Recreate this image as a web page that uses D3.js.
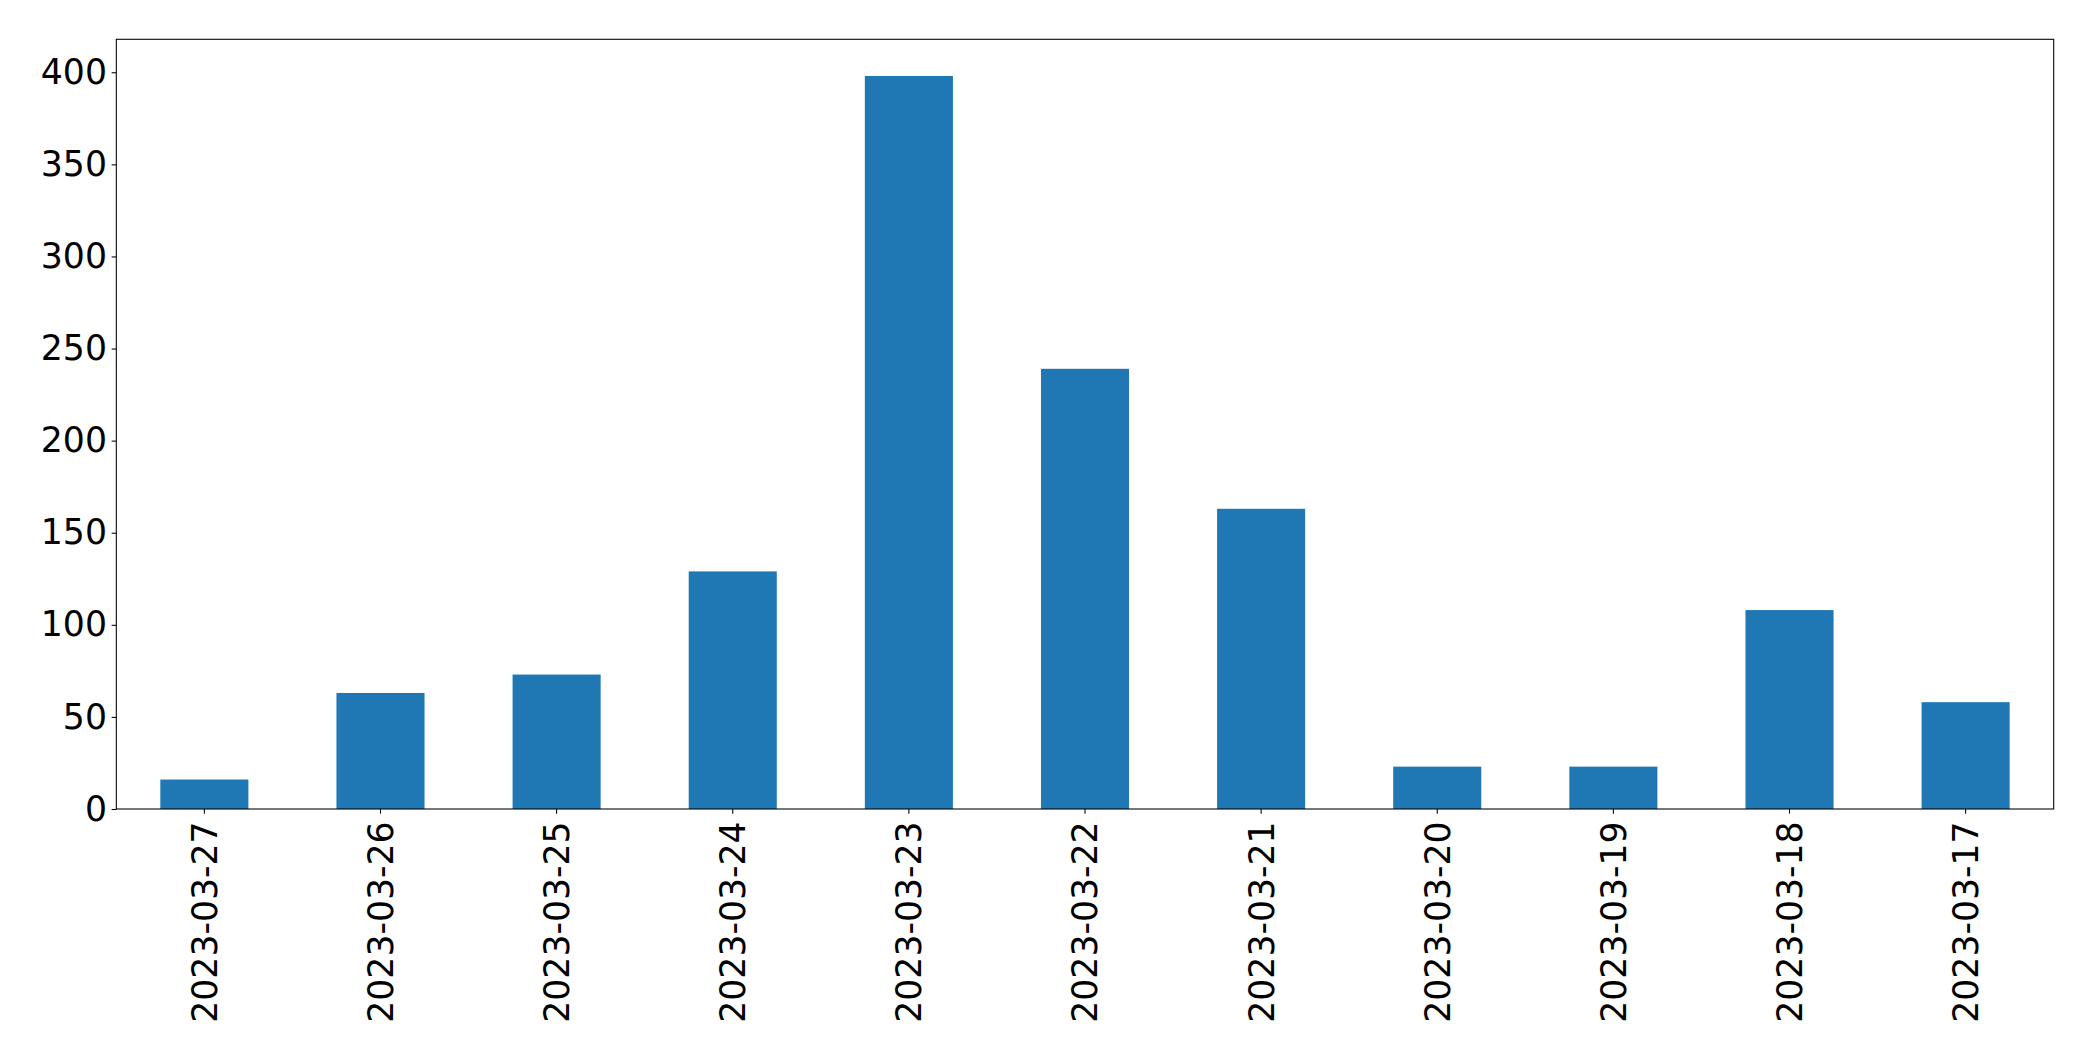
<!DOCTYPE html>
<html>
<head>
<meta charset="utf-8">
<script src="https://cdn.jsdelivr.net/npm/d3@7"></script>
<style>
  html, body { margin: 0; padding: 0; background: #fff; }
  svg { display: block; }
  text { font-family: "DejaVu Sans", sans-serif; }
</style>
</head>
<body>
<script>
const categories = ["2023-03-27","2023-03-26","2023-03-25","2023-03-24","2023-03-23","2023-03-22","2023-03-21","2023-03-20","2023-03-19","2023-03-18","2023-03-17"];
const values = [16, 63, 73, 129, 398, 239, 163, 23, 23, 108, 58];
const yTicks = [0, 50, 100, 150, 200, 250, 300, 350, 400];

const W = 2093, H = 1061;
const margin = {left: 116.3, right: W - 2053.7, top: 39.3, bottom: H - 809};
const iw = W - margin.left - margin.right;
const ih = H - margin.top - margin.bottom;
const fontSize = 34.67;
const tickLen = 4.67, pad = 4.67;

const svg = d3.select("body").append("svg").attr("width", W).attr("height", H);
const g = svg.append("g").attr("transform", `translate(${margin.left},${margin.top})`);

const x = d3.scaleBand().domain(categories).range([0, iw]).paddingInner(0.5).paddingOuter(0.25);
const y = d3.scaleLinear().domain([0, d3.max(values) * 1.05]).range([ih, 0]);

g.selectAll("rect.bar").data(categories).enter().append("rect")
  .attr("class", "bar")
  .attr("x", d => x(d))
  .attr("width", x.bandwidth())
  .attr("y", (d, i) => y(values[i]))
  .attr("height", (d, i) => ih - y(values[i]))
  .attr("fill", "#1f77b4");

const yAxis = g.append("g").call(d3.axisLeft(y).tickValues(yTicks).tickSize(tickLen).tickPadding(pad).tickFormat(d3.format("d")));
yAxis.select(".domain").remove();
yAxis.selectAll(".tick line").attr("stroke", "#000").attr("stroke-width", 1.07);
yAxis.selectAll(".tick text").attr("font-size", fontSize).attr("fill", "#000").attr("font-family", "DejaVu Sans, sans-serif");

const xAxis = g.append("g").attr("transform", `translate(0,${ih})`)
  .call(d3.axisBottom(x).tickSize(tickLen).tickPadding(pad));
xAxis.select(".domain").remove();
xAxis.selectAll(".tick line").attr("stroke", "#000").attr("stroke-width", 1.07);
xAxis.selectAll(".tick text")
  .attr("font-size", fontSize).attr("fill", "#000").attr("font-family", "DejaVu Sans, sans-serif")
  .attr("transform", `rotate(-90)`)
  .attr("text-anchor", "end")
  .attr("x", -(tickLen + pad + 3))
  .attr("y", 0)
  .attr("dy", "0.36em");

g.append("rect").attr("x", 0).attr("y", 0).attr("width", iw).attr("height", ih)
  .attr("fill", "none").attr("stroke", "#000").attr("stroke-width", 1.07);
</script>
</body>
</html>
